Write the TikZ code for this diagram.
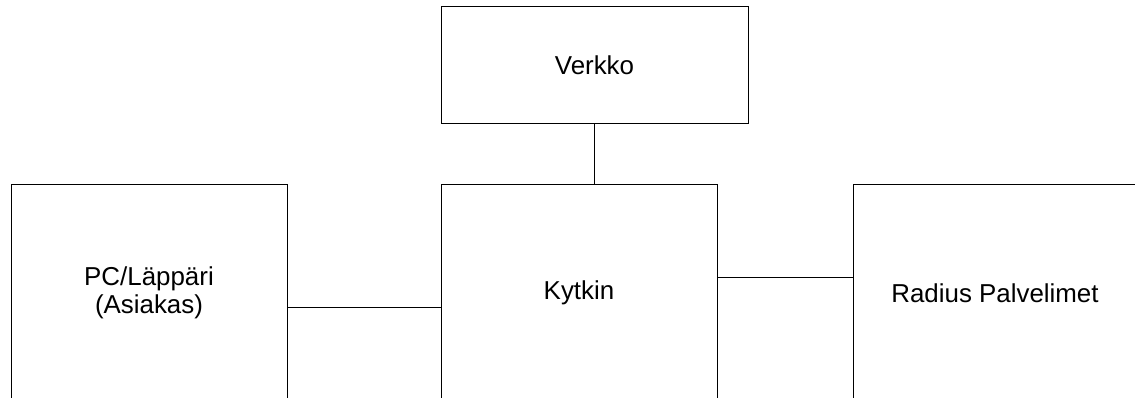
\documentclass[tikz,border=0pt]{standalone}
\usepackage{fontspec}
\setmainfont{Liberation Sans}
\begin{document}
\begin{tikzpicture}[x=1pt,y=-1pt,
  block/.style={draw=black, line width=1pt, rectangle, inner sep=0pt,
    align=center, font=\fontsize{25.9}{28}\selectfont},
  link/.style={draw=black, line width=1pt}]
  \useasboundingbox (0,0) rectangle (1135,398);
  \clip (0,0) rectangle (1135,398);
  % boxes
  \node[block, minimum width=307pt, minimum height=117pt] (verkko) at (594.5,65.5) {Verkko};
  \node[block, minimum width=276pt, minimum height=216pt] (pc) at (149,293) {PC/Läppäri\\(Asiakas)};
  \node[block, minimum width=276pt, minimum height=216pt] (kytkin) at (579,293) {Kytkin};
  \node[block, minimum width=284pt, minimum height=216pt] (radius) at (995,293) {Radius Palvelimet};
  % connectors
  \draw[link] (verkko.south) -- (verkko.south |- kytkin.north);
  \draw[link] ([yshift=-14pt]pc.east) -- ([yshift=-14pt]pc.east -| kytkin.west);
  \draw[link] ([yshift=16pt]kytkin.east) -- ([yshift=16pt]kytkin.east -| radius.west);
\end{tikzpicture}
\end{document}
